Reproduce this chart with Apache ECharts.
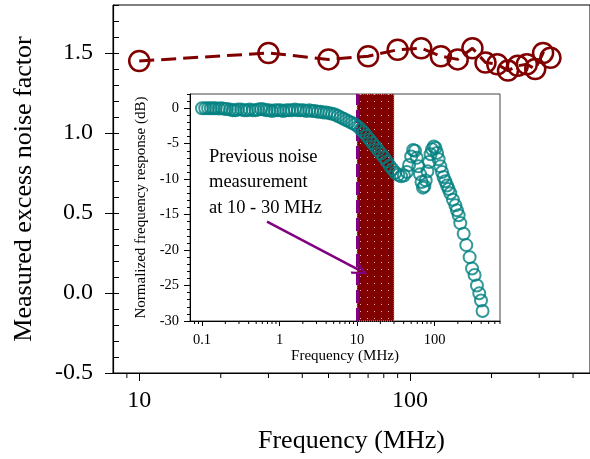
<!DOCTYPE html>
<html>
<head>
<meta charset="utf-8">
<script src="https://cdn.jsdelivr.net/npm/echarts@6/dist/echarts.min.js"></script>
<style>
  html, body { margin: 0; padding: 0; background: #fff; }
  #chart { width: 590px; height: 459px; }
</style>
</head>
<body>
<div id="chart"></div>
<script>
// main plot: measured excess noise factor
var mainFreq = [10, 30, 50, 70, 90, 110, 130, 150, 170, 190, 210, 230, 250, 270, 290, 310, 330];
var mainNoise = [1.45, 1.50, 1.46, 1.48, 1.52, 1.53, 1.48, 1.46, 1.53, 1.44, 1.43, 1.39, 1.42, 1.43, 1.40, 1.50, 1.47];

// inset: normalized frequency response (dB)
var respFreq = [0.1, 0.11, 0.12, 0.13, 0.14, 0.15, 0.165, 0.18, 0.195, 0.21,
  0.23, 0.25, 0.27, 0.29, 0.32, 0.35, 0.38, 0.41, 0.45, 0.49,
  0.53, 0.58, 0.63, 0.68, 0.74, 0.8, 0.87, 0.95, 1.03, 1.12,
  1.22, 1.33, 1.45, 1.58, 1.72, 1.87, 2.04, 2.22, 2.42, 2.63,
  2.87, 3.12, 3.4, 3.7, 4.03, 4.39, 4.78, 5.2, 5.66, 6.17,
  6.72, 7.31, 7.96, 8.67, 9.44, 10.3, 11.2, 12.2, 13.3, 14.5,
  15.8, 17.2, 18.7, 20.4, 22.2, 24.2, 26.3, 28.7, 31.2, 34,
  37, 40.3, 43.9, 47, 50, 53, 56, 59, 62, 65,
  68, 71, 74, 77, 81, 85, 89, 93, 98, 103,
  108, 113, 119, 125, 131, 138, 145, 152, 160, 173,
  186, 195, 205, 215, 238, 257, 284, 305, 329, 353,
  378, 398, 417];
var respDb = [0, 0, 0, 0, 0, 0, -0.05, 0, -0.1, -0.1,
  -0.2, -0.3, -0.3, -0.2, -0.2, -0.3, -0.3, -0.2, -0.3, -0.3,
  -0.2, -0.1, -0.2, -0.3, -0.3, -0.4, -0.3, -0.3, -0.3, -0.4,
  -0.3, -0.3, -0.3, -0.2, -0.3, -0.3, -0.3, -0.4, -0.3, -0.4,
  -0.4, -0.5, -0.5, -0.6, -0.6, -0.7, -0.8, -0.9, -1.1, -1.3,
  -1.5, -1.7, -1.9, -2.1, -2.3, -2.6, -3.0, -3.4, -3.9, -4.4,
  -4.9, -5.4, -5.9, -6.4, -6.9, -7.5, -8.1, -8.6, -9.1, -9.4,
  -9.6, -9.5, -9.0, -8.0, -6.8, -5.9, -6.0, -7.0, -8.2, -9.3,
  -10.4, -11.2, -11.0, -10.2, -8.9, -7.6, -6.5, -5.8, -5.4, -5.6,
  -6.3, -7.2, -8.2, -9.0, -9.7, -10.3, -10.9, -11.4, -12.0, -12.9,
  -13.7, -14.4, -15.1, -16.2, -17.7, -19.3, -21.0, -22.6, -23.5, -25.0,
  -26.1, -27.1, -28.6];

// previous measurement band and arrow (MHz, dB)
var bandRange = [10, 30];
var arrowFrom = [0.69, -16];
var arrowTo = [11, -22.9];
var noteText = ['Previous noise', 'measurement', 'at 10 - 30 MHz'];

// log-axis minor ticks
var mainMinorTicks = [9, 20, 30, 40, 50, 60, 70, 80, 90, 200, 300, 400];
var insetMinorTicks = [0.08, 0.09, 0.2, 0.3, 0.4, 0.5, 0.6, 0.7, 0.8, 0.9,
  2, 3, 4, 5, 6, 7, 8, 9, 20, 30, 40, 50, 60, 70, 80, 90,
  200, 300, 400, 500, 600, 700];

var FONT = 'Liberation Serif';

// dotted fill for the band
var pat = document.createElement('canvas');
pat.width = 7; pat.height = 7;
var pctx = pat.getContext('2d');
pctx.fillStyle = '#800000';
pctx.fillRect(0, 0, 7, 7);
pctx.fillStyle = '#d9b3b3';
pctx.fillRect(3, 3, 1, 1);

function tickRender(len) {
  return function (params, api) {
    var p = api.coord([api.value(0), api.value(1)]);
    return {
      type: 'line',
      shape: { x1: p[0], y1: p[1], x2: p[0], y2: p[1] + len },
      style: { stroke: '#000', lineWidth: 1 }
    };
  };
}

var myChart = echarts.init(document.getElementById('chart'));

var option = {
  animation: false,
  textStyle: { fontFamily: FONT },
  grid: [
    { left: 113, top: 5, right: 0, bottom: 86, show: true, borderColor: '#000', borderWidth: 1 },
    { left: 190, top: 94, right: 90, bottom: 138, show: true, backgroundColor: '#fff', borderColor: '#444', borderWidth: 1 }
  ],
  xAxis: [{
    type: 'log', gridIndex: 0, min: 8, max: 462, logBase: 10,
    name: 'Frequency (MHz)', nameLocation: 'middle', nameGap: 55,
    nameTextStyle: { fontFamily: FONT, fontSize: 26, color: '#000' },
    axisLine: { onZero: false, lineStyle: { color: '#000', width: 1.2 } },
    axisTick: { length: 8, lineStyle: { color: '#000' } },
    axisLabel: { fontFamily: FONT, fontSize: 24, color: '#000', margin: 16, showMinLabel: false, showMaxLabel: false },
    splitLine: { show: false }
  }, {
    type: 'log', gridIndex: 1, min: 0.07, max: 700, logBase: 10,
    name: 'Frequency (MHz)', nameLocation: 'middle', nameGap: 26,
    nameTextStyle: { fontFamily: FONT, fontSize: 15, color: '#000' },
    axisLine: { onZero: false, lineStyle: { color: '#000', width: 1 } },
    axisTick: { length: 5, lineStyle: { color: '#000' } },
    axisLabel: { fontFamily: FONT, fontSize: 14.5, color: '#000', margin: 12, showMinLabel: false, showMaxLabel: false },
    splitLine: { show: false }
  }],
  yAxis: [{
    type: 'value', gridIndex: 0, position: 'left', offset: 0, min: -0.5, max: 1.8, interval: 0.5,
    name: 'Measured excess noise factor', nameLocation: 'middle', nameGap: 76,
    nameTextStyle: { fontFamily: FONT, fontSize: 26, color: '#000' },
    axisLine: { show: true, onZero: false, lineStyle: { color: '#000', width: 1.2 } },
    axisTick: { show: true, length: 8, lineStyle: { color: '#000' } },
    axisLabel: { fontFamily: FONT, fontSize: 24, color: '#000', margin: 20, showMaxLabel: false,
      formatter: function (v) { return v.toFixed(1); } },
    splitLine: { show: false }
  }, {
    type: 'value', gridIndex: 0, position: 'left', offset: 0, min: -0.5, max: 1.8, interval: 0.1,
    axisLine: { show: false, onZero: false },
    axisTick: { show: true, inside: true, length: 6, lineStyle: { color: '#000' } },
    axisLabel: { show: false },
    splitLine: { show: false }
  }, {
    type: 'value', gridIndex: 1, position: 'left', offset: 0, min: -30, max: 2, interval: 5,
    name: 'Normalized frequency response (dB)', nameLocation: 'middle', nameGap: 36,
    nameTextStyle: { fontFamily: FONT, fontSize: 15, color: '#000' },
    axisLine: { show: true, onZero: false, lineStyle: { color: '#000', width: 1 } },
    axisTick: { show: true, length: 6, lineStyle: { color: '#000' } },
    axisLabel: { fontFamily: FONT, fontSize: 14.5, color: '#000', margin: 11, showMaxLabel: false },
    splitLine: { show: false }
  }, {
    type: 'value', gridIndex: 1, position: 'left', offset: 0, min: -30, max: 2, interval: 1,
    axisLine: { show: false, onZero: false },
    axisTick: { show: true, length: 3, lineStyle: { color: '#000' } },
    axisLabel: { show: false },
    splitLine: { show: false }
  }],
  graphic: [{
    type: 'text', left: 209, top: 144, z: 50,
    style: { text: noteText.join('\n'), fontFamily: FONT, fontSize: 18.5, lineHeight: 25.5, fill: '#000' }
  }],
  series: [{
    type: 'line', xAxisIndex: 0, yAxisIndex: 0, z: 5,
    data: mainFreq.map(function (f, i) { return [f, mainNoise[i]]; }),
    symbol: 'circle', symbolSize: 20,
    lineStyle: { color: '#800000', width: 3, type: [15, 7] },
    itemStyle: { color: 'rgba(0,0,0,0)', borderColor: '#800000', borderWidth: 2.5 }
  }, {
    type: 'line', xAxisIndex: 1, yAxisIndex: 2, data: [], z: 3,
    markArea: {
      silent: true,
      itemStyle: { color: { image: pat, repeat: 'repeat' }, borderColor: '#cfa8a8', borderWidth: 1, borderType: 'dotted' },
      data: [[{ xAxis: bandRange[0] }, { xAxis: bandRange[1] }]]
    },
    markLine: {
      silent: true, symbol: 'none', label: { show: false },
      lineStyle: { color: '#800080', width: 3, type: [13, 5] },
      data: [{ xAxis: bandRange[0] }]
    }
  }, {
    type: 'scatter', xAxisIndex: 1, yAxisIndex: 2, z: 6,
    data: respFreq.map(function (f, i) { return [f, respDb[i]]; }),
    symbol: 'circle', symbolSize: 12,
    itemStyle: { color: 'rgba(0,0,0,0)', borderColor: '#008080', borderWidth: 2 },
    markLine: {
      silent: true, label: { show: false },
      symbol: ['none', 'path://M5,0 L10,9 L8.6,10 L5,3.2 L1.4,10 L0,9 Z'],
      symbolSize: [14, 16],
      lineStyle: { color: '#800080', width: 2.5, type: 'solid' },
      data: [[{ coord: arrowFrom }, { coord: arrowTo }]]
    }
  }, {
    type: 'custom', xAxisIndex: 0, yAxisIndex: 0, silent: true, clip: false,
    data: mainMinorTicks.map(function (v) { return [v, -0.5]; }),
    renderItem: tickRender(5)
  }, {
    type: 'custom', xAxisIndex: 1, yAxisIndex: 2, silent: true, clip: false,
    data: insetMinorTicks.map(function (v) { return [v, -30]; }),
    renderItem: tickRender(3)
  }]
};

myChart.setOption(option);
</script>
</body>
</html>
